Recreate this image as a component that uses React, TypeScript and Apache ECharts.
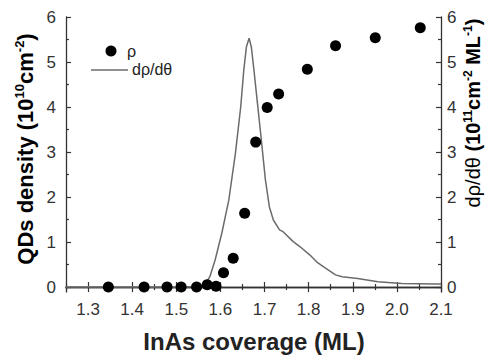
import React, { useEffect, useRef } from "react";
import * as echarts from "echarts";

// ρ : QDs density (10^10 cm^-2) vs InAs coverage (ML)
const coverage = [1.346, 1.427, 1.479, 1.511, 1.546, 1.57, 1.59, 1.607, 1.629, 1.655, 1.68, 1.706, 1.732, 1.797, 1.861, 1.951, 2.053];
const density = [0, 0, 0, 0, 0, 0.05, 0.02, 0.32, 0.64, 1.64, 3.22, 3.99, 4.29, 4.84, 5.36, 5.54, 5.76];

// dρ/dθ (10^11 cm^-2 ML^-1)
const derivX = [1.25, 1.4, 1.5, 1.555, 1.565, 1.576, 1.588, 1.603, 1.619, 1.634, 1.646, 1.653, 1.659, 1.665, 1.67, 1.676, 1.684, 1.692, 1.702, 1.711, 1.72, 1.734, 1.742, 1.765, 1.78, 1.803, 1.818, 1.834, 1.861, 1.876, 1.911, 1.957, 2.011, 2.088, 2.1];
const derivY = [0, 0, 0, 0.01, 0.05, 0.23, 0.6, 1.19, 1.93, 2.97, 4.0, 4.82, 5.34, 5.53, 5.34, 4.82, 4.08, 3.34, 2.38, 1.78, 1.49, 1.27, 1.23, 1.01, 0.9, 0.71, 0.56, 0.45, 0.27, 0.23, 0.19, 0.12, 0.08, 0.07, 0.07];

const xMajor = [1.3, 1.4, 1.5, 1.6, 1.7, 1.8, 1.9, 2.0, 2.1];
const xMinor = [1.25, 1.35, 1.45, 1.55, 1.65, 1.75, 1.85, 1.95, 2.05];
const yMajor = [0, 1, 2, 3, 4, 5, 6];
const yMinor = [0.5, 1.5, 2.5, 3.5, 4.5, 5.5];

const X_MIN = 1.25;
const X_MAX = 2.1;
const Y_MIN = -0.11;
const Y_MAX = 6;

const FONT = "Liberation Sans, Arial, sans-serif";
const AXIS_COLOR = "#333";

export default function App() {
  const ref = useRef<HTMLDivElement>(null);
  useEffect(() => {
    if (!ref.current) return;
    const chart = echarts.init(ref.current, undefined, { renderer: "svg" });

    const xAxisBase = (pos: "top" | "bottom", major: boolean) => ({
      type: "value",
      position: pos,
      min: X_MIN,
      max: X_MAX,
      axisLine: { show: major, lineStyle: { color: AXIS_COLOR, width: 1.3 } },
      axisTick: {
        show: true,
        inside: true,
        length: major ? 5 : 3,
        customValues: major ? xMajor : xMinor,
        lineStyle: { color: AXIS_COLOR, width: 1.2 },
      },
      axisLabel: {
        show: major && pos === "bottom",
        customValues: xMajor,
        formatter: (v: number) => v.toFixed(1),
        fontFamily: FONT,
        fontSize: 17,
        color: "#333",
        margin: 9,
      },
      splitLine: { show: false },
    });

    const yAxisBase = (pos: "left" | "right", major: boolean) => ({
      type: "value",
      position: pos,
      min: Y_MIN,
      max: Y_MAX,
      axisLine: { show: major, lineStyle: { color: AXIS_COLOR, width: 1.3 } },
      axisTick: {
        show: true,
        inside: true,
        length: major ? 5 : 3,
        customValues: major ? yMajor : yMinor,
        lineStyle: { color: AXIS_COLOR, width: 1.2 },
      },
      axisLabel: {
        show: major,
        customValues: yMajor,
        formatter: (v: number) => String(Math.round(v)),
        fontFamily: FONT,
        fontSize: 17,
        color: "#333",
        margin: pos === "left" ? 10 : 6,
      },
      splitLine: { show: false },
    });

    const makeRich = (size: number, sup: number) => ({
      sup: { fontFamily: FONT, fontSize: sup, fontWeight: "bold", color: "#222", verticalAlign: "top", lineHeight: sup + 1 },
      b: { fontFamily: FONT, fontSize: size, fontWeight: "bold", color: "#222", lineHeight: size + 2 },
      n: { fontFamily: FONT, fontSize: size, fontWeight: "normal", color: "#222", lineHeight: size + 2 },
    });

    chart.setOption({
      animation: false,
      backgroundColor: "#fff",
      grid: { left: 66, right: 45, top: 17, bottom: 63, containLabel: false },
      xAxis: [
        xAxisBase("bottom", true),
        xAxisBase("bottom", false),
        xAxisBase("top", true),
        xAxisBase("top", false),
      ],
      yAxis: [
        yAxisBase("left", true),
        yAxisBase("left", false),
        yAxisBase("right", true),
        yAxisBase("right", false),
      ],
      series: [
        {
          name: "dρ/dθ",
          type: "line",
          xAxisIndex: 0,
          yAxisIndex: 2,
          data: derivX.map((x, i) => [x, derivY[i]]),
          symbol: "none",
          lineStyle: { color: "#6b6b6b", width: 1.5 },
          smooth: false,
          z: 2,
        },
        {
          name: "ρ",
          type: "scatter",
          xAxisIndex: 0,
          yAxisIndex: 0,
          data: coverage.map((x, i) => [x, density[i]]),
          symbol: "circle",
          symbolSize: 11,
          itemStyle: { color: "#000", opacity: 1 },
          z: 3,
        },
      ],
      graphic: [
        // legend
        { type: "circle", shape: { cx: 111, cy: 51, r: 5.5 }, style: { fill: "#000" } },
        { type: "text", x: 127, y: 51, style: { text: "ρ", fontFamily: FONT, fontSize: 16, fill: "#222", verticalAlign: "middle" } },
        { type: "line", shape: { x1: 91, y1: 70, x2: 128, y2: 70 }, style: { stroke: "#6b6b6b", lineWidth: 1.5 } },
        { type: "text", x: 132, y: 69, style: { text: "dρ/dθ", fontFamily: FONT, fontSize: 16, fill: "#222", verticalAlign: "middle" } },
        // axis titles
        {
          type: "text",
          x: 254,
          y: 341,
          style: {
            text: "InAs coverage (ML)",
            fontFamily: FONT,
            fontSize: 24,
            fontWeight: "bold",
            fill: "#222",
            align: "center",
            verticalAlign: "middle",
          },
        },
        {
          type: "text",
          x: 25,
          y: 149,
          rotation: Math.PI / 2,
          style: {
            text: "{b|QDs density (10}{sup|10}{b|cm}{sup|-2}{b|)}",
            rich: makeRich(22, 13),
            align: "center",
            verticalAlign: "middle",
          },
        },
        {
          type: "text",
          x: 473,
          y: 113,
          rotation: Math.PI / 2,
          style: {
            text: "{n|dρ/dθ }{b|(10}{sup|11}{b|cm}{sup|-2}{b| ML}{sup|-1}{b|)}",
            rich: makeRich(20, 12),
            align: "center",
            verticalAlign: "middle",
          },
        },
      ],
    });
    return () => chart.dispose();
  }, []);

  return (
    <div
      ref={ref}
      style={{ position: "fixed", left: 0, top: 0, width: 486, height: 355, background: "#fff" }}
    />
  );
}
